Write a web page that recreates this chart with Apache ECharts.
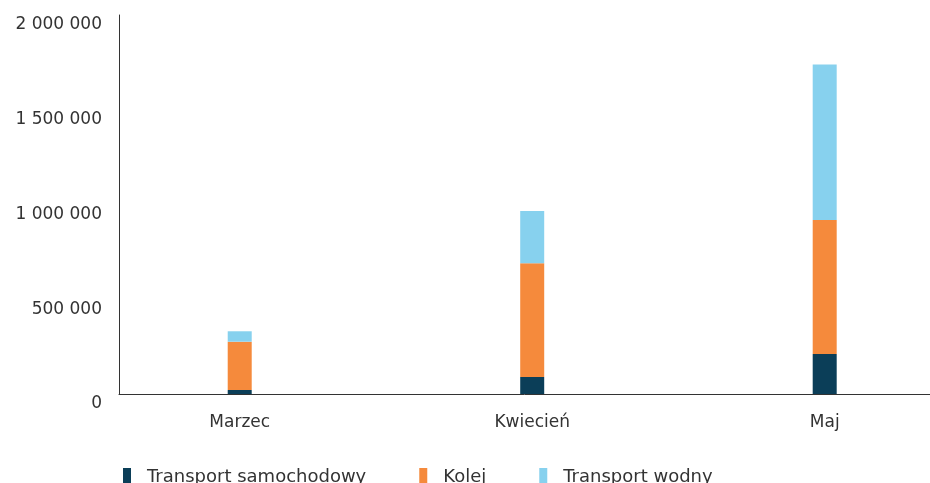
<!DOCTYPE html>
<html>
<head>
<meta charset="utf-8">
<script src="https://cdn.jsdelivr.net/npm/echarts@6/dist/echarts.min.js"></script>
<style>
html,body{margin:0;padding:0;background:#fff;}
#chart{width:930px;height:483px;}
</style>
</head>
<body>
<div id="chart"></div>
<script>
var categories = ['Marzec', 'Kwiecień', 'Maj'];
var seriesNames = ['Transport samochodowy', 'Kolej', 'Transport wodny'];
var roadValues = [21000, 90000, 211000];
var railValues = [255000, 600000, 707000];
var waterValues = [55000, 276000, 821000];
var yTicks = [0, 500000, 1000000, 1500000, 2000000];
var colors = ['#0b3e58', '#f58a3c', '#87d1ee'];

function fmt(v) {
  return String(v).replace(/\B(?=(\d{3})+(?!\d))/g, ' ');
}
// rows: [value, categoryIndex]; value first so that stacking applies to y
function toRows(arr) {
  return arr.map(function (v, i) { return [v, i]; });
}

var font = 'DejaVu Sans';
var yMin = yTicks[0], yMax = yTicks[yTicks.length - 1];
var chart = echarts.init(document.getElementById('chart'), null, {renderer: 'canvas'});
var valueSets = [roadValues, railValues, waterValues];
chart.setOption({
  animation: false,
  color: colors,
  grid: {left: 119, right: 0, top: 15, bottom: 89, containLabel: false},
  legend: {
    left: 123, top: 468, padding: 0,
    itemWidth: 19, itemHeight: 18, itemGap: 53,
    icon: 'path://M0,0h8v18h-8z M19,0L19,0',
    textStyle: {fontFamily: font, fontSize: 18, color: '#333'},
    data: seriesNames
  },
  xAxis: {
    type: 'value',
    min: -0.4127, max: 2.36,
    axisLine: {show: true, onZero: false, lineStyle: {color: '#333', width: 1}},
    axisTick: {show: false},
    splitLine: {show: false},
    axisLabel: {
      customValues: [0, 1, 2],
      formatter: function (v) { return categories[Math.round(v)] || ''; },
      fontFamily: font, fontSize: 17, color: '#333', margin: 20
    }
  },
  yAxis: {
    type: 'value',
    min: yMin, max: yMax, interval: 500000,
    axisLine: {show: true, onZero: false, lineStyle: {color: '#333', width: 1}},
    axisTick: {show: false},
    splitLine: {show: false},
    axisLabel: {
      formatter: function (v) { return fmt(v); },
      fontFamily: font, fontSize: 17, color: '#333', margin: 17,
      verticalAlign: 'top', lineHeight: 20
    }
  },
  series: seriesNames.map(function (name, i) {
    return {
      name: name,
      type: 'bar',
      stack: 'total',
      barWidth: 24,
      encode: {x: 1, y: 0},
      data: toRows(valueSets[i]),
      itemStyle: {color: colors[i]}
    };
  })
});
</script>
</body>
</html>
